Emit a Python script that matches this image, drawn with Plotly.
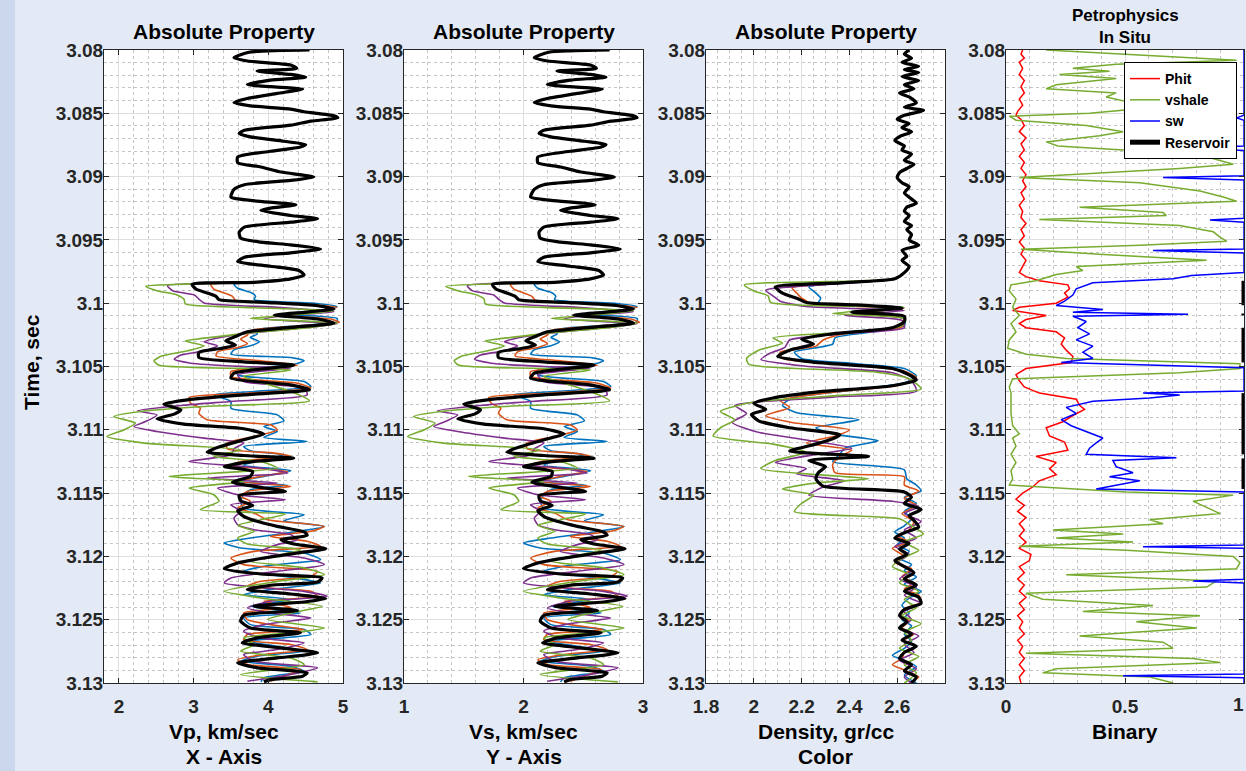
import plotly.graph_objects as go

# ---------------------------------------------------------------------------
# Velocity logs (Vp / Vs).  Above the reservoir all scenarios share one log.
# ---------------------------------------------------------------------------
t_vel_top = [3.08000, 3.08018, 3.08061, 3.08087, 3.08119, 3.08145, 3.08166, 3.08193, 3.08214, 3.08238,
             3.08272, 3.08290, 3.08309, 3.08343, 3.08383, 3.08414, 3.08441, 3.08467, 3.08488, 3.08520,
             3.08536, 3.08562, 3.08594, 3.08634, 3.08660, 3.08686, 3.08721, 3.08747, 3.08766, 3.08800,
             3.08845, 3.08890, 3.08924, 3.08964, 3.09003, 3.09030, 3.09064, 3.09101, 3.09162, 3.09188,
             3.09222, 3.09249, 3.09267, 3.09307, 3.09333, 3.09360, 3.09399, 3.09439, 3.09486, 3.09518,
             3.09539, 3.09571, 3.09602, 3.09637, 3.09671, 3.09708, 3.09742, 3.09777, 3.09808, 3.09835]
vp_top = [4.55, 3.74, 3.54, 3.72, 4.30, 4.38, 3.85, 4.30, 4.50, 4.03, 3.72, 4.03, 4.46, 4.12, 3.72,
          3.54, 3.76, 4.30, 4.48, 4.88, 4.93, 4.57, 4.30, 3.68, 3.61, 3.76, 4.21, 4.50, 4.43, 4.03,
          3.59, 3.59, 3.90, 4.17, 4.61, 4.30, 3.68, 3.54, 3.50, 3.76, 4.37, 4.03, 3.90, 4.30, 4.66,
          4.30, 3.68, 3.61, 3.63, 3.90, 4.30, 4.70, 4.30, 3.68, 3.59, 4.03, 4.41, 4.48, 4.30, 3.81]
vs_top = [2.72, 2.21, 2.09, 2.20, 2.56, 2.61, 2.28, 2.56, 2.69, 2.39, 2.20, 2.39, 2.66, 2.45, 2.20,
          2.09, 2.23, 2.56, 2.67, 2.92, 2.95, 2.73, 2.56, 2.17, 2.13, 2.23, 2.51, 2.69, 2.65, 2.39,
          2.12, 2.12, 2.31, 2.48, 2.76, 2.56, 2.17, 2.09, 2.06, 2.23, 2.60, 2.39, 2.31, 2.56, 2.79,
          2.56, 2.17, 2.13, 2.14, 2.31, 2.56, 2.81, 2.56, 2.17, 2.12, 2.39, 2.63, 2.67, 2.56, 2.26]

# in-situ (black) log, reservoir and below
t_vel_black = [3.09851, 3.09888, 3.09919, 3.09946, 3.09972, 3.09993, 3.10020, 3.10046, 3.10072, 3.10094,
               3.10125, 3.10157, 3.10191, 3.10226, 3.10263, 3.10297, 3.10331, 3.10358, 3.10389, 3.10429,
               3.10463, 3.10490, 3.10553, 3.10592, 3.10645, 3.10684, 3.10724, 3.10763, 3.10797, 3.10842,
               3.10876, 3.10913, 3.10955, 3.10992, 3.11034, 3.11079, 3.11132, 3.11176, 3.11203, 3.11224,
               3.11255, 3.11289, 3.11329, 3.11368, 3.11413, 3.11455, 3.11487, 3.11518, 3.11560, 3.11597,
               3.11639, 3.11684, 3.11723, 3.11763, 3.11807, 3.11834, 3.11868, 3.11902, 3.11939, 3.11973,
               3.12013, 3.12052, 3.12097, 3.12139, 3.12170, 3.12202, 3.12228, 3.12262, 3.12297, 3.12333,
               3.12360, 3.12394, 3.12428, 3.12465, 3.12512, 3.12565, 3.12604, 3.12644, 3.12683, 3.12723,
               3.12762, 3.12802, 3.12841, 3.12880, 3.12920, 3.12946, 3.12973, 3.12991]
vp_black = [2.98, 3.03, 3.18, 3.30, 3.34, 3.94, 4.66, 4.88, 4.48, 4.08, 4.66, 4.88, 4.30, 3.72, 3.56,
            3.43, 3.56, 3.36, 3.07, 3.07, 3.67, 4.34,
            3.54, 3.50, 4.30, 4.55, 3.67, 2.92, 2.60, 2.83, 2.74, 2.51, 2.87, 3.67, 3.94, 3.67, 3.36,
            3.18, 3.67, 4.34, 3.72, 3.41, 3.79, 3.76, 3.52, 3.90, 4.23, 3.61, 3.63, 3.79, 3.59, 3.67,
            3.85, 4.12, 4.48, 4.52, 4.17, 4.34, 4.77, 4.39, 3.94, 3.59, 3.41, 3.90, 4.72, 4.66, 4.03,
            3.72, 4.30, 4.77, 4.48, 3.81, 4.39, 3.67, 3.63, 3.76, 4.43, 3.85, 3.65, 4.17, 4.66, 4.12,
            3.59, 3.85, 4.52, 4.46, 4.03, 3.94]
vs_black = [1.74, 1.77, 1.86, 1.93, 1.96, 2.34, 2.79, 2.92, 2.67, 2.42, 2.79, 2.92, 2.56, 2.20, 2.10,
            2.02, 2.10, 1.98, 1.79, 1.79, 2.17, 2.59,
            2.09, 2.06, 2.56, 2.72, 2.17, 1.70, 1.50, 1.64, 1.59, 1.45, 1.67, 2.17, 2.34, 2.17, 1.98,
            1.86, 2.17, 2.59, 2.20, 2.00, 2.24, 2.23, 2.07, 2.31, 2.52, 2.13, 2.14, 2.24, 2.12, 2.17,
            2.28, 2.45, 2.67, 2.70, 2.48, 2.59, 2.85, 2.62, 2.34, 2.12, 2.00, 2.31, 2.83, 2.79, 2.39,
            2.20, 2.56, 2.85, 2.67, 2.26, 2.62, 2.17, 2.14, 2.23, 2.65, 2.28, 2.16, 2.48, 2.79, 2.45,
            2.12, 2.28, 2.70, 2.66, 2.39, 2.34]

t_vel_green = [3.09866, 3.09901, 3.09935, 3.09967, 3.10006, 3.10033, 3.10059, 3.10094, 3.10120, 3.10157,
               3.10191, 3.10231, 3.10268, 3.10299, 3.10336, 3.10376, 3.10416, 3.10455, 3.10490,
               3.10527, 3.10579, 3.10632, 3.10698, 3.10771, 3.10816, 3.10855, 3.10895, 3.10947, 3.11000,
               3.11053, 3.11105, 3.11158, 3.11210, 3.11250, 3.11302, 3.11368, 3.11408, 3.11460, 3.11513,
               3.11565, 3.11631, 3.11665, 3.11710, 3.11755, 3.11802, 3.11855, 3.11902, 3.11947, 3.11992,
               3.12039, 3.12091, 3.12144, 3.12197, 3.12276, 3.12328, 3.12394, 3.12447, 3.12499, 3.12565,
               3.12604, 3.12644, 3.12696, 3.12749, 3.12802, 3.12854, 3.12933, 3.12991]
vp_green = [2.36, 2.51, 2.78, 2.87, 2.89, 3.67, 4.88, 4.30, 3.76, 4.92, 4.57, 3.81, 3.27, 2.89, 3.14,
            2.92, 2.58, 2.47, 2.54,
            4.30, 3.67, 3.94, 4.30, 4.55, 3.14, 2.29, 1.93, 2.22, 2.07, 1.84, 2.34, 3.63, 3.27, 3.90,
            4.12, 2.67, 3.67, 2.94, 3.27, 3.34, 3.09, 4.23, 3.90, 3.59, 3.81, 3.59, 3.72, 4.43, 4.12,
            3.76, 4.48, 4.75, 4.12, 3.41, 3.90, 4.72, 4.30, 3.99, 4.75, 4.30, 3.67, 3.81, 3.63, 4.30,
            4.48, 3.63, 4.66]
vs_green = [1.35, 1.45, 1.61, 1.67, 1.68, 2.17, 2.92, 2.56, 2.23, 2.95, 2.73, 2.26, 1.92, 1.68, 1.84,
            1.70, 1.49, 1.42, 1.46,
            2.56, 2.17, 2.34, 2.56, 2.72, 1.84, 1.31, 1.08, 1.26, 1.17, 1.03, 1.33, 2.14, 1.92, 2.31,
            2.45, 1.54, 2.17, 1.71, 1.92, 1.96, 1.81, 2.52, 2.31, 2.12, 2.26, 2.12, 2.20, 2.65, 2.45,
            2.23, 2.67, 2.84, 2.45, 2.00, 2.31, 2.83, 2.56, 2.37, 2.84, 2.56, 2.17, 2.26, 2.14, 2.56,
            2.67, 2.14, 2.79]

t_vel_purple = [3.09861, 3.09901, 3.09935, 3.09967, 3.09998, 3.10033, 3.10067, 3.10099, 3.10125, 3.10162,
                3.10199, 3.10236, 3.10273, 3.10305, 3.10336, 3.10376, 3.10410, 3.10442, 3.10474, 3.10500,
                3.10513, 3.10566, 3.10619, 3.10671, 3.10724, 3.10776, 3.10803, 3.10850, 3.10882, 3.10929,
                3.10974, 3.11013, 3.11066, 3.11105, 3.11150, 3.11197, 3.11250, 3.11302, 3.11342, 3.11381,
                3.11421, 3.11460, 3.11513, 3.11552, 3.11592, 3.11644, 3.11697, 3.11750, 3.11789, 3.11828,
                3.11868, 3.11907, 3.11960, 3.12013, 3.12065, 3.12118, 3.12170, 3.12210, 3.12276, 3.12315,
                3.12354, 3.12407, 3.12447, 3.12486, 3.12539, 3.12591, 3.12644, 3.12683, 3.12736, 3.12775,
                3.12828, 3.12880, 3.12933, 3.12986]
vp_purple = [2.65, 2.72, 3.01, 3.07, 3.14, 4.12, 4.88, 4.21, 3.94, 4.92, 4.39, 3.76, 3.34, 3.14, 3.32,
             3.14, 2.83, 2.74, 2.96, 3.67,
             4.30, 3.59, 3.67, 4.48, 4.52, 3.50, 2.92, 2.25, 2.51, 2.38, 2.20, 2.51, 3.14, 3.67, 3.54,
             3.50, 2.94, 3.90, 4.26, 3.18, 4.12, 3.32, 3.59, 4.23, 3.50, 3.63, 3.54, 3.59, 3.81, 4.30,
             4.39, 4.12, 3.90, 4.48, 4.75, 4.12, 3.50, 3.41, 4.48, 4.79, 4.03, 3.72, 4.03, 4.57, 3.94,
             3.67, 3.90, 4.48, 4.12, 3.67, 3.81, 4.66, 4.30, 3.72]
vs_purple = [1.53, 1.57, 1.75, 1.79, 1.84, 2.45, 2.92, 2.51, 2.34, 2.95, 2.62, 2.23, 1.96, 1.84, 1.95,
             1.84, 1.64, 1.59, 1.73, 2.17,
             2.56, 2.12, 2.17, 2.67, 2.70, 2.06, 1.70, 1.28, 1.45, 1.36, 1.25, 1.45, 1.84, 2.17, 2.09,
             2.06, 1.71, 2.31, 2.53, 1.86, 2.45, 1.95, 2.12, 2.52, 2.06, 2.14, 2.09, 2.12, 2.26, 2.56,
             2.62, 2.45, 2.31, 2.67, 2.84, 2.45, 2.06, 2.00, 2.67, 2.87, 2.39, 2.20, 2.39, 2.73, 2.34,
             2.17, 2.31, 2.67, 2.45, 2.17, 2.26, 2.79, 2.56, 2.20]

t_vel_orange = [3.09851, 3.09888, 3.09919, 3.09946, 3.09977, 3.10006, 3.10033, 3.10067, 3.10094, 3.10125,
                3.10152, 3.10183, 3.10218, 3.10252, 3.10284, 3.10318, 3.10350, 3.10384, 3.10416, 3.10455,
                3.10490,
                3.10540, 3.10579, 3.10632, 3.10671, 3.10711, 3.10745, 3.10790, 3.10829, 3.10869, 3.10921,
                3.10961, 3.11000, 3.11053, 3.11105, 3.11150, 3.11184, 3.11210, 3.11245, 3.11281, 3.11329,
                3.11368, 3.11408, 3.11447, 3.11487, 3.11526, 3.11565, 3.11618, 3.11658, 3.11710, 3.11763,
                3.11802, 3.11842, 3.11881, 3.11921, 3.11960, 3.12013, 3.12065, 3.12118, 3.12157, 3.12197,
                3.12236, 3.12276, 3.12315, 3.12354, 3.12402, 3.12447, 3.12499, 3.12539, 3.12578, 3.12617,
                3.12657, 3.12696, 3.12736, 3.12775, 3.12815, 3.12854, 3.12894, 3.12946, 3.12986]
vp_orange = [3.23, 3.27, 3.41, 3.52, 3.56, 4.48, 4.92, 4.57, 4.12, 4.84, 4.95, 4.34, 3.76, 3.72, 3.63,
             3.72, 3.59, 3.32, 3.30, 3.90, 4.39,
             3.50, 3.50, 4.39, 4.57, 3.72, 2.94, 2.96, 3.09, 3.07, 3.18, 4.03, 4.12, 3.81, 3.45, 3.45,
             4.08, 4.30, 3.67, 3.50, 4.26, 3.90, 3.63, 4.30, 3.72, 3.63, 3.76, 3.59, 3.81, 3.99, 4.75,
             4.57, 4.03, 4.52, 4.70, 3.81, 3.50, 3.67, 4.66, 4.57, 3.90, 3.72, 4.57, 4.66, 3.94, 4.30,
             3.67, 3.72, 4.03, 4.48, 3.72, 3.67, 4.30, 4.52, 3.94, 3.59, 3.72, 4.43, 4.21, 4.03]
vs_orange = [1.89, 1.92, 2.00, 2.07, 2.10, 2.67, 2.95, 2.73, 2.45, 2.90, 2.97, 2.59, 2.23, 2.20, 2.14,
             2.20, 2.12, 1.95, 1.93, 2.31, 2.62,
             2.06, 2.06, 2.62, 2.73, 2.20, 1.71, 1.73, 1.81, 1.79, 1.86, 2.39, 2.45, 2.26, 2.03, 2.03,
             2.42, 2.56, 2.17, 2.06, 2.53, 2.31, 2.14, 2.56, 2.20, 2.14, 2.23, 2.12, 2.26, 2.37, 2.84,
             2.73, 2.39, 2.70, 2.81, 2.26, 2.06, 2.17, 2.79, 2.73, 2.31, 2.20, 2.73, 2.79, 2.34, 2.56,
             2.17, 2.20, 2.39, 2.67, 2.20, 2.17, 2.56, 2.70, 2.34, 2.12, 2.20, 2.65, 2.51, 2.39]

t_vel_blue = [3.09851, 3.09882, 3.09914, 3.09946, 3.09972, 3.09998, 3.10025, 3.10059, 3.10086, 3.10120,
              3.10146, 3.10178, 3.10210, 3.10244, 3.10270, 3.10305, 3.10336, 3.10368, 3.10402, 3.10429,
              3.10455, 3.10490,
              3.10527, 3.10566, 3.10619, 3.10658, 3.10698, 3.10724, 3.10776, 3.10829, 3.10882, 3.10929,
              3.10974, 3.11013, 3.11060, 3.11092, 3.11132, 3.11166, 3.11197, 3.11245, 3.11281, 3.11323,
              3.11368, 3.11408, 3.11439, 3.11473, 3.11513, 3.11565, 3.11618, 3.11671, 3.11718, 3.11763,
              3.11807, 3.11855, 3.11894, 3.11934, 3.11973, 3.12026, 3.12070, 3.12118, 3.12165, 3.12210,
              3.12262, 3.12302, 3.12341, 3.12394, 3.12447, 3.12486, 3.12539, 3.12578, 3.12617, 3.12670,
              3.12710, 3.12749, 3.12788, 3.12828, 3.12867, 3.12907, 3.12959, 3.12991]
vp_blue = [3.54, 3.59, 3.76, 3.83, 3.81, 4.57, 4.92, 4.70, 4.21, 4.92, 4.92, 4.39, 3.85, 3.85, 3.76,
           3.88, 3.76, 3.54, 3.50, 4.30, 4.48, 4.30,
           3.59, 3.59, 4.48, 4.57, 3.81, 3.27, 3.50, 3.50, 4.12, 4.21, 3.94, 4.12, 3.94, 4.52, 3.67,
           3.76, 4.21, 3.85, 3.67, 4.30, 3.94, 3.59, 4.26, 3.76, 3.67, 3.63, 3.67, 4.48, 4.21, 4.75,
           4.34, 3.76, 3.41, 3.63, 4.48, 4.70, 4.03, 3.67, 4.30, 4.70, 4.03, 3.67, 4.30, 3.76, 4.43,
           3.67, 3.76, 4.48, 4.57, 3.72, 4.12, 4.48, 3.85, 3.63, 4.30, 4.48, 3.94, 3.90]
vs_blue = [2.09, 2.12, 2.23, 2.27, 2.26, 2.73, 2.95, 2.81, 2.51, 2.95, 2.95, 2.62, 2.28, 2.28, 2.23,
           2.30, 2.23, 2.09, 2.06, 2.56, 2.67, 2.56,
           2.12, 2.12, 2.67, 2.73, 2.26, 1.92, 2.06, 2.06, 2.45, 2.51, 2.34, 2.45, 2.34, 2.70, 2.17,
           2.23, 2.51, 2.28, 2.17, 2.56, 2.34, 2.12, 2.53, 2.23, 2.17, 2.14, 2.17, 2.67, 2.51, 2.84,
           2.59, 2.23, 2.00, 2.14, 2.67, 2.81, 2.39, 2.17, 2.56, 2.81, 2.39, 2.17, 2.56, 2.23, 2.65,
           2.17, 2.23, 2.67, 2.73, 2.20, 2.45, 2.67, 2.28, 2.14, 2.56, 2.67, 2.34, 2.31]

# ---------------------------------------------------------------------------
# Density logs
# ---------------------------------------------------------------------------
t_rho_top = [3.08000, 3.08032, 3.08065, 3.08097, 3.08129, 3.08155, 3.08177, 3.08210, 3.08242, 3.08274,
             3.08306, 3.08339, 3.08371, 3.08419, 3.08452, 3.08477, 3.08516, 3.08548, 3.08581, 3.08613,
             3.08645, 3.08684, 3.08716, 3.08758, 3.08790, 3.08823, 3.08871, 3.08903, 3.08936, 3.08968,
             3.09007, 3.09048, 3.09081, 3.09129, 3.09177, 3.09210, 3.09242, 3.09274, 3.09307, 3.09355,
             3.09387, 3.09419, 3.09458, 3.09500, 3.09542, 3.09581, 3.09629, 3.09661, 3.09710, 3.09758,
             3.09807]
rho_top = [2.65, 2.63, 2.66, 2.62, 2.69, 2.63, 2.69, 2.62, 2.69, 2.63, 2.67, 2.61, 2.65, 2.68, 2.63,
           2.71, 2.63, 2.60, 2.65, 2.62, 2.66, 2.61, 2.59, 2.63, 2.62, 2.66, 2.63, 2.67, 2.64, 2.61,
           2.60, 2.62, 2.65, 2.63, 2.66, 2.68, 2.64, 2.63, 2.65, 2.63, 2.66, 2.64, 2.66, 2.65, 2.69,
           2.62, 2.64, 2.62, 2.65, 2.63, 2.59]

t_rho_black = [3.09839, 3.09871, 3.09920, 3.09961, 3.09994, 3.10013, 3.10039, 3.10071, 3.10103, 3.10145,
               3.10194, 3.10242, 3.10284, 3.10323, 3.10371, 3.10420, 3.10468, 3.10516, 3.10565, 3.10607,
               3.10652, 3.10703, 3.10749, 3.10791, 3.10839, 3.10878, 3.10929, 3.10984, 3.11039, 3.11071,
               3.11113, 3.11168, 3.11210, 3.11242, 3.11291, 3.11339, 3.11387, 3.11445, 3.11491, 3.11532,
               3.11581, 3.11629, 3.11678, 3.11716, 3.11768, 3.11813, 3.11855, 3.11897, 3.11942, 3.11984,
               3.12033, 3.12081, 3.12129, 3.12178, 3.12226, 3.12275, 3.12323, 3.12371, 3.12420, 3.12468,
               3.12516, 3.12565, 3.12613, 3.12662, 3.12710, 3.12758, 3.12807, 3.12855, 3.12904, 3.12952,
               3.13000]
rho_black = [2.36, 2.09, 2.12, 2.18, 2.22, 2.43, 2.62, 2.41, 2.63, 2.63, 2.58, 2.33, 2.20, 2.25, 2.15,
             2.10, 2.26, 2.58, 2.65, 2.68, 2.58, 2.26, 2.08, 2.00, 2.05, 1.99, 2.02, 2.15, 2.36, 2.33,
             2.26, 2.15, 2.48, 2.23, 2.30, 2.27, 2.26, 2.29, 2.63, 2.66, 2.63, 2.70, 2.65, 2.67, 2.69,
             2.63, 2.59, 2.65, 2.61, 2.64, 2.59, 2.63, 2.67, 2.63, 2.68, 2.63, 2.69, 2.70, 2.63, 2.61,
             2.64, 2.61, 2.66, 2.62, 2.68, 2.63, 2.61, 2.66, 2.63, 2.68, 2.66]

t_rho_green = [3.09855, 3.09903, 3.09942, 3.09994, 3.10032, 3.10081, 3.10123, 3.10178, 3.10226, 3.10274,
               3.10316, 3.10371, 3.10436, 3.10484, 3.10542, 3.10597, 3.10678, 3.10726, 3.10781, 3.10855,
               3.10920, 3.10984, 3.11049, 3.11113, 3.11178, 3.11242, 3.11307, 3.11387, 3.11420, 3.11468,
               3.11516, 3.11581, 3.11645, 3.11703, 3.11758, 3.11823, 3.11887, 3.11952, 3.12016, 3.12081,
               3.12145, 3.12210, 3.12275, 3.12339, 3.12404, 3.12468, 3.12533, 3.12597, 3.12662, 3.12726,
               3.12791, 3.12855, 3.12920, 3.13000]
rho_green = [1.96, 2.00, 2.06, 2.07, 2.63, 2.33, 2.63, 2.62, 2.41, 2.08, 2.12, 2.02, 1.97, 1.98, 2.50,
             2.65, 2.70, 2.38, 2.00, 1.86, 1.92, 1.86, 1.83, 2.08, 2.22, 2.09, 2.03, 2.48, 2.26, 2.12,
             2.25, 2.20, 2.17, 2.61, 2.66, 2.71, 2.63, 2.69, 2.62, 2.58, 2.65, 2.61, 2.69, 2.63, 2.68,
             2.62, 2.70, 2.63, 2.66, 2.61, 2.69, 2.63, 2.68, 2.63]

t_rho_purple = [3.09897, 3.09942, 3.09984, 3.10026, 3.10058, 3.10097, 3.10136, 3.10194, 3.10242, 3.10291,
                3.10349, 3.10394, 3.10445, 3.10498, 3.10549, 3.10613, 3.10694, 3.10742, 3.10807, 3.10871,
                3.10942, 3.11016, 3.11081, 3.11145, 3.11194, 3.11258, 3.11307, 3.11349, 3.11403, 3.11452,
                3.11516, 3.11565, 3.11607, 3.11662, 3.11726, 3.11791, 3.11855, 3.11920, 3.11984, 3.12049,
                3.12113, 3.12178, 3.12242, 3.12307, 3.12371, 3.12436, 3.12500, 3.12565, 3.12629, 3.12694,
                3.12758, 3.12823, 3.12887, 3.12952, 3.13000]
rho_purple = [2.05, 2.08, 2.11, 2.22, 2.63, 2.38, 2.62, 2.63, 2.36, 2.15, 2.13, 2.07, 2.03, 2.22, 2.58,
              2.66, 2.68, 2.33, 1.92, 1.97, 1.91, 2.01, 2.22, 2.41, 2.26, 2.09, 2.22, 2.18, 2.38, 2.29,
              2.23, 2.58, 2.69, 2.63, 2.70, 2.63, 2.68, 2.59, 2.65, 2.60, 2.66, 2.61, 2.68, 2.63, 2.70,
              2.63, 2.66, 2.61, 2.69, 2.63, 2.67, 2.61, 2.68, 2.63, 2.66]

t_rho_orange = [3.09878, 3.09920, 3.09961, 3.10007, 3.10039, 3.10081, 3.10123, 3.10187, 3.10242, 3.10291,
                3.10339, 3.10387, 3.10436, 3.10484, 3.10532, 3.10587, 3.10645, 3.10703, 3.10768, 3.10823,
                3.10887, 3.10942, 3.11000, 3.11049, 3.11104, 3.11161, 3.11210, 3.11274, 3.11339, 3.11371,
                3.11436, 3.11484, 3.11542, 3.11597, 3.11662, 3.11726, 3.11791, 3.11839, 3.11887, 3.11936,
                3.12000, 3.12049, 3.12097, 3.12162, 3.12210, 3.12258, 3.12307, 3.12362, 3.12413, 3.12458,
                3.12510, 3.12565, 3.12613, 3.12662, 3.12710, 3.12758, 3.12807, 3.12855, 3.12897, 3.12952,
                3.13000]
rho_orange = [2.16, 2.18, 2.20, 2.25, 2.63, 2.44, 2.63, 2.62, 2.38, 2.29, 2.26, 2.11, 2.12, 2.38, 2.62,
              2.68, 2.61, 2.33, 2.11, 2.15, 2.05, 2.16, 2.40, 2.34, 2.22, 2.41, 2.36, 2.33, 2.34, 2.63,
              2.63, 2.69, 2.63, 2.68, 2.62, 2.67, 2.65, 2.60, 2.65, 2.58, 2.63, 2.59, 2.66, 2.62, 2.67,
              2.63, 2.69, 2.70, 2.63, 2.61, 2.65, 2.62, 2.67, 2.63, 2.68, 2.63, 2.62, 2.58, 2.63, 2.69,
              2.65]

t_rho_blue = [3.09871, 3.09920, 3.09961, 3.10000, 3.10032, 3.10081, 3.10123, 3.10178, 3.10226, 3.10274,
              3.10323, 3.10387, 3.10436, 3.10478, 3.10516, 3.10574, 3.10629, 3.10694, 3.10749, 3.10807,
              3.10865, 3.10920, 3.10984, 3.11032, 3.11087, 3.11145, 3.11194, 3.11252, 3.11316, 3.11387,
              3.11436, 3.11484, 3.11532, 3.11581, 3.11645, 3.11703, 3.11758, 3.11807, 3.11855, 3.11910,
              3.11962, 3.12016, 3.12065, 3.12113, 3.12162, 3.12220, 3.12275, 3.12329, 3.12387, 3.12445,
              3.12500, 3.12549, 3.12613, 3.12671, 3.12726, 3.12781, 3.12823, 3.12871, 3.12936, 3.13000]
rho_blue = [2.23, 2.26, 2.28, 2.27, 2.62, 2.47, 2.63, 2.63, 2.50, 2.34, 2.33, 2.17, 2.20, 2.43, 2.63,
            2.68, 2.63, 2.38, 2.16, 2.12, 2.18, 2.44, 2.26, 2.33, 2.52, 2.38, 2.36, 2.33, 2.63, 2.64,
            2.68, 2.70, 2.63, 2.68, 2.63, 2.66, 2.63, 2.59, 2.63, 2.60, 2.65, 2.61, 2.66, 2.63, 2.68,
            2.63, 2.70, 2.65, 2.62, 2.65, 2.62, 2.66, 2.63, 2.66, 2.63, 2.58, 2.63, 2.68, 2.63, 2.68]

# ---------------------------------------------------------------------------
# Petrophysics (in situ)
# ---------------------------------------------------------------------------
t_phit = [3.08000, 3.08032, 3.08065, 3.08097, 3.08145, 3.08194, 3.08242, 3.08290, 3.08339, 3.08387,
          3.08436, 3.08484, 3.08516, 3.08548, 3.08597, 3.08645, 3.08694, 3.08742, 3.08790, 3.08839,
          3.08887, 3.08936, 3.08984, 3.09032, 3.09081, 3.09129, 3.09177, 3.09226, 3.09274, 3.09323,
          3.09371, 3.09419, 3.09468, 3.09516, 3.09565, 3.09613, 3.09661, 3.09710, 3.09758, 3.09790,
          3.09823, 3.09855, 3.09887, 3.09920, 3.09952, 3.10000, 3.10032, 3.10058, 3.10097, 3.10129,
          3.10161, 3.10194, 3.10226, 3.10274, 3.10323, 3.10371, 3.10420, 3.10468, 3.10516, 3.10565,
          3.10613, 3.10661, 3.10710, 3.10758, 3.10807, 3.10839, 3.10887, 3.10936, 3.10984, 3.11049,
          3.11097, 3.11161, 3.11210, 3.11258, 3.11307, 3.11355, 3.11403, 3.11452, 3.11500, 3.11549,
          3.11597, 3.11645, 3.11694, 3.11742, 3.11791, 3.11839, 3.11887, 3.11936, 3.11984, 3.12033,
          3.12081, 3.12129, 3.12178, 3.12226, 3.12275, 3.12323, 3.12371, 3.12420, 3.12468, 3.12516,
          3.12565, 3.12613, 3.12662, 3.12710, 3.12758, 3.12807, 3.12855, 3.12904, 3.12952, 3.13000]
phit = [0.070, 0.063, 0.077, 0.056, 0.070, 0.056, 0.077, 0.063, 0.077, 0.056,
        0.070, 0.049, 0.042, 0.063, 0.077, 0.056, 0.084, 0.063, 0.077, 0.056,
        0.077, 0.063, 0.084, 0.070, 0.084, 0.063, 0.077, 0.056, 0.070, 0.063,
        0.084, 0.063, 0.077, 0.056, 0.077, 0.063, 0.084, 0.070, 0.056, 0.084,
        0.140, 0.260, 0.267, 0.246, 0.260, 0.211, 0.056, 0.028, 0.169, 0.084,
        0.056, 0.084, 0.211, 0.246, 0.232, 0.253, 0.281, 0.274, 0.084, 0.042,
        0.056, 0.077, 0.140, 0.295, 0.309, 0.330, 0.281, 0.239, 0.169, 0.183,
        0.246, 0.260, 0.126, 0.211, 0.183, 0.211, 0.140, 0.112, 0.070, 0.042,
        0.077, 0.049, 0.084, 0.056, 0.077, 0.056, 0.084, 0.056, 0.105, 0.098,
        0.056, 0.077, 0.049, 0.077, 0.056, 0.084, 0.056, 0.077, 0.049, 0.070,
        0.056, 0.077, 0.049, 0.070, 0.056, 0.077, 0.056, 0.077, 0.056, 0.063]

t_vshale = [3.08000, 3.08081, 3.08113, 3.08145, 3.08168, 3.08194, 3.08226, 3.08274, 3.08306, 3.08339,
            3.08371, 3.08419, 3.08468, 3.08500, 3.08523, 3.08555, 3.08597, 3.08645, 3.08677, 3.08726,
            3.08758, 3.08790, 3.08813, 3.08855, 3.08903, 3.08936, 3.08968, 3.09007, 3.09048, 3.09113,
            3.09161, 3.09194, 3.09242, 3.09284, 3.09307, 3.09339, 3.09387, 3.09436, 3.09478, 3.09510,
            3.09542, 3.09574, 3.09613, 3.09661, 3.09710, 3.09742, 3.09774, 3.09823, 3.09855, 3.09903,
            3.09968, 3.10032, 3.10097, 3.10161, 3.10226, 3.10290, 3.10355, 3.10403, 3.10436, 3.10478,
            3.10516, 3.10549, 3.10597, 3.10661, 3.10710, 3.10774, 3.10871, 3.10968, 3.11032, 3.11065,
            3.11129, 3.11194, 3.11258, 3.11323, 3.11387, 3.11436, 3.11468, 3.11491, 3.11516, 3.11565,
            3.11613, 3.11662, 3.11710, 3.11742, 3.11791, 3.11823, 3.11855, 3.11887, 3.11920, 3.11952,
            3.12000, 3.12049, 3.12097, 3.12145, 3.12194, 3.12242, 3.12291, 3.12339, 3.12387, 3.12436,
            3.12468, 3.12516, 3.12565, 3.12629, 3.12678, 3.12726, 3.12765, 3.12807, 3.12839, 3.12887,
            3.12920, 3.12952, 3.13000]
vshale = [0.169, 0.969, 0.463, 0.281, 0.435, 0.225, 0.463, 0.211, 0.169, 0.463,
          0.421, 0.534, 0.534, 0.351, 0.014, 0.042, 0.337, 0.492, 0.393, 0.169,
          0.218, 0.492, 0.787, 0.871, 0.955, 0.730, 0.421, 0.056, 0.562, 0.815,
          0.913, 0.969, 0.309, 0.660, 0.674, 0.140, 0.730, 0.871, 0.899, 0.927,
          0.562, 0.063, 0.393, 0.843, 0.295, 0.323, 0.211, 0.126, 0.021, 0.014,
          0.042, 0.028, 0.056, 0.021, 0.042, 0.014, 0.007, 0.084, 0.253, 0.983,
          0.983, 0.730, 0.028, 0.014, 0.021, 0.021, 0.021, 0.028, 0.056, 0.028,
          0.042, 0.021, 0.042, 0.021, 0.028, 0.014, 0.281, 0.506, 0.955, 0.787,
          0.843, 0.899, 0.604, 0.660, 0.197, 0.492, 0.211, 0.534, 0.056, 0.506,
          0.955, 0.983, 0.969, 0.253, 0.885, 0.843, 0.084, 0.154, 0.618, 0.323,
          0.815, 0.548, 0.801, 0.309, 0.660, 0.702, 0.084, 0.787, 0.899, 0.211,
          0.154, 0.604, 0.702]

t_sw = [3.08000, 3.08516, 3.08536, 3.08555, 3.08758, 3.08774, 3.08794, 3.08994, 3.09007, 3.09026,
        3.09329, 3.09342, 3.09361, 3.09571, 3.09584, 3.09603, 3.09758, 3.09781, 3.09807, 3.09839,
        3.09887, 3.09936, 3.09984, 3.10019, 3.10049, 3.10071, 3.10087, 3.10103, 3.10145, 3.10194,
        3.10242, 3.10290, 3.10339, 3.10387, 3.10436, 3.10468, 3.10490, 3.10510, 3.10694, 3.10710,
        3.10726, 3.10749, 3.10774, 3.10823, 3.10871, 3.10920, 3.10968, 3.11016, 3.11065, 3.11104,
        3.11145, 3.11194, 3.11220, 3.11242, 3.11291, 3.11339, 3.11371, 3.11403, 3.11436, 3.11468,
        3.11491, 3.11910, 3.11923, 3.11936, 3.12181, 3.12194, 3.12210, 3.12929, 3.12942, 3.12958,
        3.13000]
sw = [1.0, 1.0, 0.969, 1.0, 1.0, 0.808, 1.0, 1.0, 0.660, 1.0,
      1.0, 0.857, 1.0, 1.0, 0.618, 1.0, 1.0, 0.780, 0.702, 0.365,
      0.295, 0.281, 0.246, 0.211, 0.407, 0.281, 0.765, 0.281, 0.337, 0.302,
      0.351, 0.295, 0.365, 0.323, 0.365, 0.232, 0.632, 1.0, 1.0, 0.576,
      0.730, 0.604, 0.365, 0.253, 0.295, 0.232, 0.274, 0.337, 0.407, 0.379,
      0.351, 0.337, 0.716, 0.449, 0.463, 0.534, 0.435, 0.562, 0.463, 0.379,
      1.0, 1.0, 0.576, 1.0, 1.0, 0.787, 1.0, 1.0, 0.492, 1.0,
      1.0]

# reservoir flag intervals (flag = 1 inside, gaps elsewhere)
t_reservoir = [3.09823, 3.10016, None, 3.10081, 3.10097, None, 3.10194, 3.10468, None,
               3.10710, 3.11194, None, 3.11226, 3.11468]
reservoir = [1, 1, None, 1, 1, None, 1, 1, None, 1, 1, None, 1, 1]

# axis ticks
time_ticks = [3.08, 3.085, 3.09, 3.095, 3.10, 3.105, 3.11, 3.115, 3.12, 3.125, 3.13]
time_labels = ["3.08", "3.085", "3.09", "3.095", "3.1", "3.105", "3.11", "3.115", "3.12", "3.125", "3.13"]
vp_ticks = [2, 3, 4, 5]
vs_ticks = [1, 2, 3]
rho_ticks = [1.8, 2.0, 2.2, 2.4, 2.6]
rho_labels = ["1.8", "2", "2.2", "2.4", "2.6"]
bin_ticks = [0, 0.5, 1]
bin_labels = ["0", "0.5", "1"]

# ---------------------------------------------------------------------------
W, H = 1246, 771
FONT = "Liberation Sans, Arial, Helvetica, sans-serif"
INK = "#262626"
C_BLUE, C_ORANGE, C_PURPLE, C_GREEN = "#0072BD", "#D95319", "#7E2F8E", "#77AC30"

panel_px = [(104, 343), (404, 643), (706, 945), (1006, 1244)]
top_px, bot_px = 50, 683
ydom = [1 - bot_px / H, 1 - top_px / H]

fig = go.Figure()


def line(x, y, color, width, ax, name=None, legend=False, smooth=False):
    shape = dict(shape="spline", smoothing=0.6) if smooth else {}
    fig.add_trace(go.Scatter(
        x=x, y=y, mode="lines", name=name, showlegend=legend,
        line=dict(color=color, width=width, **shape), connectgaps=False,
        xaxis="x" + ax, yaxis="y" + ax, hoverinfo="skip"))


# velocity panels
for ax, top, series in [
    ("", vp_top, [(t_vel_blue, vp_blue, C_BLUE), (t_vel_orange, vp_orange, C_ORANGE),
                  (t_vel_purple, vp_purple, C_PURPLE), (t_vel_green, vp_green, C_GREEN)]),
    ("2", vs_top, [(t_vel_blue, vs_blue, C_BLUE), (t_vel_orange, vs_orange, C_ORANGE),
                   (t_vel_purple, vs_purple, C_PURPLE), (t_vel_green, vs_green, C_GREEN)]),
]:
    for tt, vv, col in series:
        line(top + vv, t_vel_top + tt, col, 1.6, ax, smooth=True)
line(vp_top + vp_black, t_vel_top + t_vel_black, "black", 3.2, "", smooth=True)
line(vs_top + vs_black, t_vel_top + t_vel_black, "black", 3.2, "2", smooth=True)

# density panel
for tt, vv, col in [(t_rho_blue, rho_blue, C_BLUE), (t_rho_orange, rho_orange, C_ORANGE),
                    (t_rho_purple, rho_purple, C_PURPLE), (t_rho_green, rho_green, C_GREEN)]:
    line(rho_top + vv, t_rho_top + tt, col, 1.6, "3", smooth=True)
line(rho_top + rho_black, t_rho_top + t_rho_black, "black", 3.2, "3", smooth=True)

# petrophysics panel
line(phit, t_phit, "#FF0000", 1.5, "4", "Phit", True)
line(vshale, t_vshale, C_GREEN, 1.5, "4", "vshale", True)
line(sw, t_sw, "#0000FF", 1.5, "4", "sw", True)
line(reservoir, t_reservoir, "black", 5, "4", "Reservoir", True)

GRID = "#dedede"
MINOR = dict(showgrid=True, gridcolor="#c4c4c4", griddash="dot", gridwidth=1, ticks="")
tickfont = dict(family=FONT, size=19, color=INK, weight="bold")
common = dict(showline=True, linecolor=INK, linewidth=1, mirror="ticks", ticks="inside",
              ticklen=5, tickcolor=INK, showgrid=True, gridcolor=GRID, gridwidth=1,
              zeroline=False, tickfont=tickfont, fixedrange=True, automargin=False)

# the last binary tick label sits on the window edge, so it is written separately
xspecs = [
    dict(range=[1.8, 5], tickvals=vp_ticks, minor=dict(MINOR, tick0=1.8, dtick=0.2)),
    dict(range=[1, 3], tickvals=vs_ticks, minor=dict(MINOR, tick0=1, dtick=0.2)),
    dict(range=[1.8, 2.8], tickvals=rho_ticks, ticktext=rho_labels, minor=dict(MINOR, tick0=1.8, dtick=0.05)),
    dict(range=[0, 1], tickvals=bin_ticks, ticktext=bin_labels[:-1] + [""],
         minor=dict(MINOR, tick0=0, dtick=0.1)),
]
layout_axes = {}
for i, ((x0, x1), spec) in enumerate(zip(panel_px, xspecs)):
    suffix = "" if i == 0 else str(i + 1)
    layout_axes["xaxis" + suffix] = dict(common, domain=[x0 / W, x1 / W], anchor="y" + suffix,
                                         tickmode="array", ticklabelstandoff=6, **spec)
    layout_axes["yaxis" + suffix] = dict(common, domain=ydom, anchor="x" + suffix,
                                         range=[3.13, 3.08], tickmode="array", tickvals=time_ticks,
                                         ticktext=time_labels, ticklabelstandoff=-4,
                                         minor=dict(MINOR, tick0=3.08, dtick=0.001))

ann = []


def text(s, xpx, ypx, size, angle=0, xanchor="center", color="#000000"):
    ann.append(dict(text=s, x=xpx / W, y=1 - ypx / H, xref="paper", yref="paper",
                    xanchor=xanchor, yanchor="middle", showarrow=False, textangle=angle,
                    borderpad=0,
                    font=dict(family=FONT, size=size, color=color, weight="bold")))


centers = [(a + b) / 2 for a, b in panel_px]
for c in centers[:3]:
    text("Absolute Property", c, 32, 21)
text("Petrophysics", centers[3], 15, 17)
text("In Situ", centers[3], 37, 17)
for c, l1, l2 in [(centers[0], "Vp, km/sec", "X - Axis"), (centers[1], "Vs, km/sec", "Y - Axis"),
                  (centers[2], "Density, gr/cc", "Color")]:
    text(l1, c, 731, 21)
    text(l2, c, 756, 21)
text("Binary", centers[3], 731, 21)
text("Time, sec", 31, 362, 21, -90)
text(bin_labels[-1], 1245, 704, 19, xanchor="right", color=INK)

fig.update_layout(
    width=W, height=H, margin=dict(l=0, r=0, t=0, b=0),
    paper_bgcolor="#e4eaf5", plot_bgcolor="#ffffff",
    annotations=ann,
    shapes=[dict(type="rect", xref="paper", yref="paper", x0=0, x1=15 / W, y0=0, y1=1,
                 fillcolor="#cbd7ed", line=dict(width=0), layer="below")],
    legend=dict(x=1237 / W, y=1 - 62 / H, xanchor="right", yanchor="top",
                bgcolor="#ffffff", bordercolor="#000000", borderwidth=1,
                font=dict(family=FONT, size=14, color="#000000", weight="bold"),
                tracegroupgap=0),
    showlegend=True,
    **layout_axes,
)

fig.write_html("out.html")
